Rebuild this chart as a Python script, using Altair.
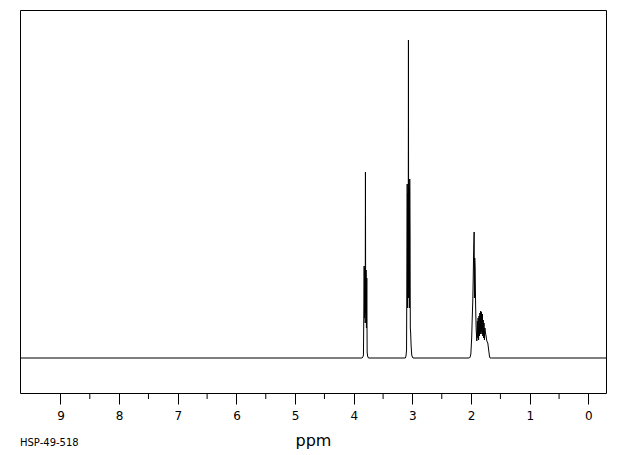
import altair as alt
import pandas as pd

# Spectrum trace (chemical shift in ppm, relative intensity)
ppm = [
    9.69, 3.860, 3.845, 3.835, 3.828, 3.823, 3.816, 3.810, 3.805, 3.801, 3.797,
    3.790, 3.784, 3.778, 3.772, 3.765, 3.750,
    3.120, 3.110, 3.100, 3.094, 3.089, 3.083, 3.077, 3.072, 3.068, 3.064,
    3.058, 3.052, 3.046, 3.040, 3.036, 3.030, 3.022, 3.012, 3.000, 2.990,
    2.030, 2.016, 2.004, 1.990, 1.982, 1.972, 1.965, 1.957, 1.948, 1.943,
    1.938, 1.931, 1.922, 1.914, 1.905, 1.902, 1.892, 1.885, 1.880, 1.872,
    1.865, 1.858, 1.850, 1.843, 1.836, 1.829, 1.822, 1.815, 1.807, 1.800,
    1.793, 1.786, 1.780, 1.772, 1.764, 1.755, 1.744, 1.732, 1.715, 1.700,
    1.687, 1.676, 1.650, -0.30,
]
intensity = [
    0, 0, 1, 3, 50, 92, 40, 90, 35, 186, 45,
    88, 30, 80, 6, 2, 0,
    0, 2, 8, 100, 174, 50, 165, 70, 318, 60,
    170, 50, 179, 120, 30, 25, 12, 3, 1, 0,
    0, 1, 4, 20, 37, 55, 75, 104, 126, 60,
    100, 90, 50, 30, 20, 17, 37, 20, 40, 18,
    42, 22, 45, 24, 47, 26, 46, 24, 44, 22,
    38, 20, 35, 18, 30, 25, 22, 17, 15, 8,
    2, 0, 0, 0,
]

major_ticks = [9, 8, 7, 6, 5, 4, 3, 2, 1, 0]
minor_ticks = [8.5, 7.5, 6.5, 5.5, 4.5, 3.5, 2.5, 1.5, 0.5]
code_label = "HSP-49-518"

df = pd.DataFrame({"ppm": ppm, "intensity": intensity})
df_minor = pd.DataFrame({"ppm": minor_ticks})
df_label = pd.DataFrame({"label": [code_label]})

W, H = 586, 383
xscale = alt.Scale(domain=[-0.30, 9.69], reverse=True, nice=False, zero=False)
xaxis = alt.Axis(
    values=major_ticks,
    format="d",
    title="ppm",
    tickSize=11,
    tickColor="black",
    domain=False,
    grid=False,
    labelFont="DejaVu Sans",
    labelFontSize=12,
    labelColor="black",
    labelPadding=6,
    titleFont="DejaVu Sans",
    titleFontSize=16,
    titleFontWeight="normal",
    titleColor="black",
    titlePadding=11,
)

line = alt.Chart(df).mark_line(color="black", strokeWidth=1).encode(
    x=alt.X("ppm:Q", scale=xscale, axis=xaxis),
    y=alt.Y(
        "intensity:Q",
        scale=alt.Scale(domain=[-35, 348], nice=False, zero=False),
        axis=None,
    ),
)

minor = alt.Chart(df_minor).mark_rule(color="black", strokeWidth=1).encode(
    x=alt.X("ppm:Q", scale=xscale, axis=xaxis),
    y=alt.value(H),
    y2=alt.value(H + 6),
)

label = alt.Chart(df_label).mark_text(
    align="left", baseline="middle", font="DejaVu Sans", fontSize=10, color="black"
).encode(
    text="label:N",
    x=alt.value(0),
    y=alt.value(433),
)

chart = (
    alt.layer(line, minor, label)
    .properties(
        width=W,
        height=H,
        autosize=alt.AutoSizeParams(type="none"),
        padding={"left": 12, "top": 2, "right": 6, "bottom": 60},
        background="white",
    )
    .configure_view(stroke="black", strokeWidth=1)
)

chart.save("out.html", embed_options={"renderer": "svg", "actions": False})
